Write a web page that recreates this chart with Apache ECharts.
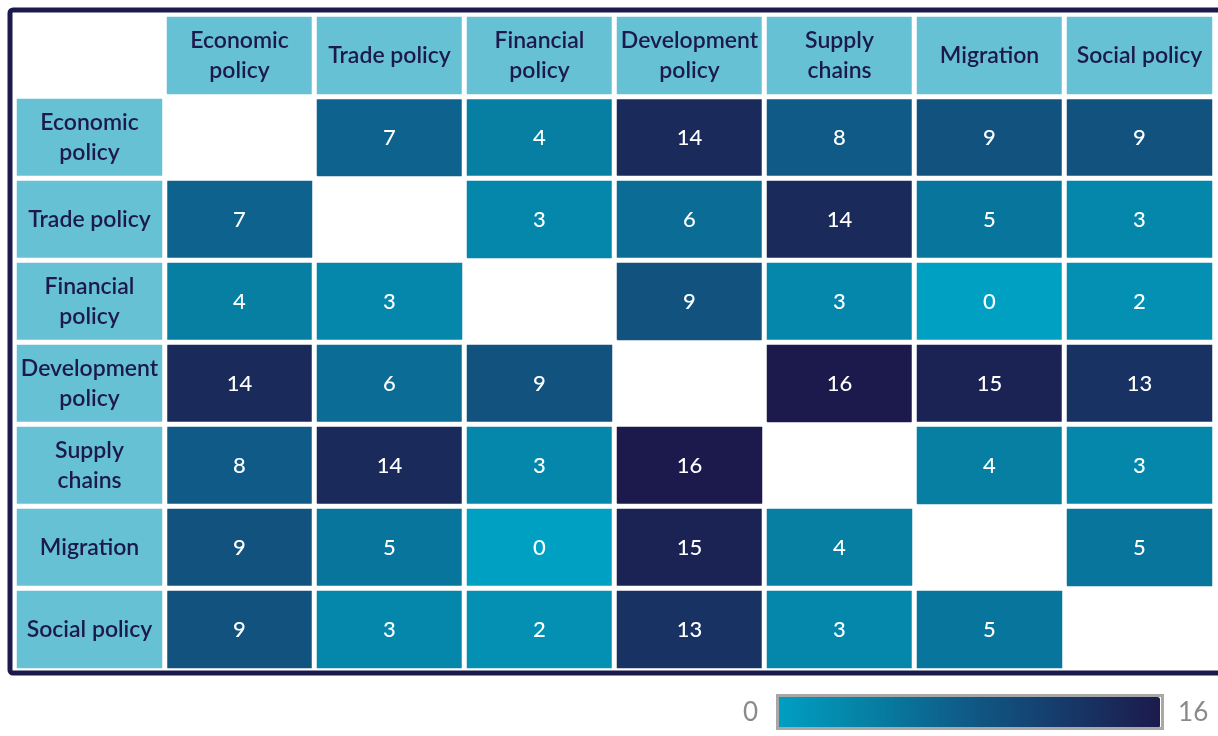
<!DOCTYPE html>
<html>
<head>
<meta charset="utf-8">
<script src="https://cdn.jsdelivr.net/npm/echarts@6/dist/echarts.min.js"></script>
<style>
  html, body { margin: 0; padding: 0; background: #ffffff; }
  #chart { width: 1218px; height: 736px; }
</style>
</head>
<body>
<div id="chart"></div>
<script>
const categories = ['Economic policy', 'Trade policy', 'Financial policy', 'Development policy', 'Supply chains', 'Migration', 'Social policy'];
const tickLabels = ['Economic\npolicy', 'Trade policy', 'Financial\npolicy', 'Development\npolicy', 'Supply\nchains', 'Migration', 'Social policy'];
// rows: source category, columns: target category (null = diagonal, left blank)
const rowEconomic    = [null, 7, 4, 14, 8, 9, 9];
const rowTrade       = [7, null, 3, 6, 14, 5, 3];
const rowFinancial   = [4, 3, null, 9, 3, 0, 2];
const rowDevelopment = [14, 6, 9, null, 16, 15, 13];
const rowSupply      = [8, 14, 3, 16, null, 4, 3];
const rowMigration   = [9, 5, 0, 15, 4, null, 5];
const rowSocial      = [9, 3, 2, 13, 3, 5, null];
const matrix = [rowEconomic, rowTrade, rowFinancial, rowDevelopment, rowSupply, rowMigration, rowSocial];
const scaleMin = 0, scaleMax = 16;

const axisCats = [''].concat(categories);
const cellData = [];
matrix.forEach((row, r) => row.forEach((v, c) => {
  if (v !== null) cellData.push([c + 1, r + 1, v]);
}));
const headerData = [];
categories.forEach((name, i) => {
  headerData.push({ value: [i + 1, 0, 0], name: tickLabels[i] });
  headerData.push({ value: [0, i + 1, 0], name: tickLabels[i] });
});

const navy = '#1c1a4c';
const chart = echarts.init(document.getElementById('chart'));
chart.setOption({
  backgroundColor: '#ffffff',
  animation: false,
  grid: { left: 14.5, top: 14.5, width: 1200, height: 656 },
  xAxis: {
    type: 'category', data: axisCats,
    axisLine: { show: false }, axisTick: { show: false }, axisLabel: { show: false }, splitLine: { show: false }
  },
  yAxis: {
    type: 'category', data: axisCats, inverse: true,
    axisLine: { show: false }, axisTick: { show: false }, axisLabel: { show: false }, splitLine: { show: false }
  },
  visualMap: {
    type: 'continuous', min: scaleMin, max: scaleMax, seriesIndex: 0,
    orient: 'horizontal', calculable: false,
    left: 728, top: 682,
    itemWidth: 31, itemHeight: 384,
    text: ['16', '0'], textGap: 18,
    textStyle: { color: '#8a8a8a', fontSize: 26, fontFamily: 'Lato' },
    inRange: { color: ['#00a0c3', '#067fa3', '#0f5a86', '#163a6a', '#1c1a4c'] }
  },
  graphic: [
    {
      type: 'rect', z: 100,
      shape: { x: 10, y: 10, width: 1212, height: 663, r: 3 },
      style: { fill: 'none', stroke: navy, lineWidth: 5 }
    },
    {
      type: 'rect', z: 100,
      shape: { x: 777.5, y: 695.5, width: 385, height: 33 },
      style: { fill: 'none', stroke: '#a8a8a8', lineWidth: 3 }
    }
  ],
  series: [
    {
      type: 'heatmap', data: cellData,
      itemStyle: { borderColor: '#ffffff', borderWidth: 5 },
      label: { show: true, color: '#ffffff', fontSize: 22, fontFamily: 'Lato', fontWeight: 500 },
      emphasis: { disabled: true }
    },
    {
      type: 'heatmap', data: headerData,
      itemStyle: { color: '#67c1d5', borderColor: '#ffffff', borderWidth: 5 },
      label: {
        show: true, formatter: p => p.name, color: navy,
        fontSize: 23, fontFamily: 'Lato', fontWeight: 600, lineHeight: 30
      },
      emphasis: { disabled: true }
    }
  ]
});
</script>
</body>
</html>
